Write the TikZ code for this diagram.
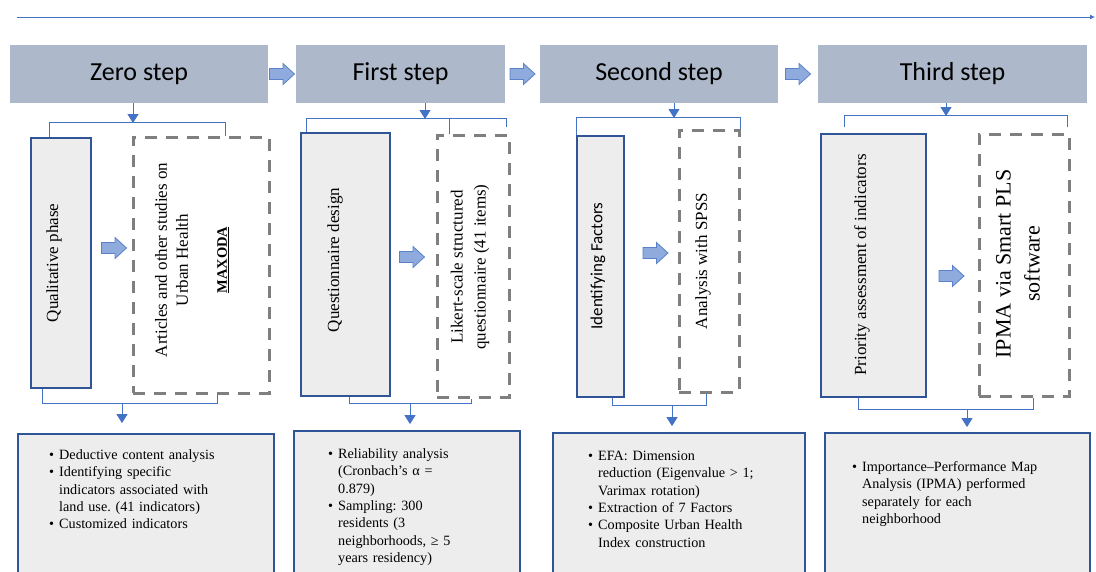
\documentclass[tikz,border=0pt]{standalone}
\usepackage{fontspec}
\setmainfont{Liberation Serif}
\newfontfamily\calib{Carlito}
\usetikzlibrary{arrows.meta,calc}
\definecolor{headfill}{HTML}{ADB9CA}
\definecolor{boxfill}{HTML}{EDEDED}
\definecolor{boxline}{HTML}{2F5597}
\definecolor{dashline}{HTML}{7F7F7F}
\definecolor{brkcol}{HTML}{4472C4}
\definecolor{blkfill}{HTML}{8FAADC}
\definecolor{blkline}{HTML}{5A82C8}
\newcommand{\bitem}[1]{\par\hangindent=10pt\hangafter=1\noindent\makebox[10pt][l]{\textbullet}#1\par}
\begin{document}
\begin{tikzpicture}[x=1pt,y=-1pt,
  head/.style={draw=none, fill=headfill, font=\calib\fontsize{26}{30}\selectfont, inner sep=0},
  solidbox/.style={draw=boxline, line width=1.8pt, fill=boxfill, inner sep=0},
  dashbox/.style={draw=dashline, line width=3pt, dash pattern=on 12pt off 9pt, inner sep=0},
  bottombox/.style={draw=boxline, line width=1.8pt, fill=boxfill, inner sep=0},
  rottext/.style={rotate=90, align=center, inner sep=0, font=\fontsize{17}{21}\selectfont},
  brkline/.style={draw=brkcol, line width=1pt},
  darr/.style={draw=brkcol, line width=1pt, -{Triangle[length=9pt,width=11pt]}},
  blist/.style={anchor=north west, inner sep=0, text width=220pt, font=\fontsize{14.2}{17.3}\selectfont, execute at begin node={\raggedright\frenchspacing}},
  blkarrow/.pic={\draw[draw=blkline, fill=blkfill, line width=0.8pt] (-12.5,-5.5) -- (1,-5.5) -- (1,-10.5) -- (12.5,0) -- (1,10.5) -- (1,5.5) -- (-12.5,5.5) -- cycle;}
]
\useasboundingbox (0,0) rectangle (1096,571);
\clip (0,0) rectangle (1096,571);

% top timeline
\coordinate (tl0) at (17,17);
\coordinate (tl1) at (1095,17);
\draw[draw=brkcol, line width=0.8pt, -{Latex[length=5pt,width=5pt]}] (tl0) -- (tl1);

% headers
\node[head, minimum width=258pt, minimum height=58pt] (h0) at (139,74) {Zero step};
\node[head, minimum width=209pt, minimum height=58pt] (h1) at (400.5,74) {First step};
\node[head, minimum width=238pt, minimum height=58pt] (h2) at (659,74) {Second step};
\node[head, minimum width=269pt, minimum height=58pt] (h3) at (952.5,74) {Third step};

\pic at ($(h0.east)!0.5!(h1.west)$) {blkarrow};
\pic at ($(h1.east)!0.5!(h2.west)$) {blkarrow};
\pic at ($(h2.east)!0.5!(h3.west)$) {blkarrow};

% solid boxes
\node[solidbox, minimum width=60pt, minimum height=250pt] (q0) at (61,263) {};
\node[solidbox, minimum width=89pt, minimum height=263pt] (q1) at (345.5,264.5) {};
\node[solidbox, minimum width=47pt, minimum height=261pt] (q2) at (600.5,266.5) {};
\node[solidbox, minimum width=105pt, minimum height=263pt] (q3) at (873.5,265.5) {};

\node[rottext] (q0t) at (54,263) {Qualitative phase};
\node[rottext] (q1t) at (335,260) {Questionnaire design};
\node[rottext, font=\calib\fontsize{17}{21}\selectfont] (q2t) at (598,266) {Identifying Factors};
\node[rottext] (q3t) at (862,265) {Priority assessment of indicators};

% dashed boxes
\node[dashbox, minimum width=136pt, minimum height=256pt] (d0) at (201,265) {};
\node[dashbox, minimum width=72pt, minimum height=262pt] (d1) at (473,266) {};
\node[dashbox, minimum width=60pt, minimum height=262pt] (d2) at (709,261) {};
\node[dashbox, minimum width=90pt, minimum height=262pt] (d3) at (1024,265) {};

\node[rottext] (d0t) at (192,260) {Articles and other studies on\\Urban Health\\[18pt]{\fontsize{14.5}{17}\selectfont\bfseries\underline{MAXODA}}};
\node[rottext, font=\fontsize{17}{23}\selectfont] (d1t) at (470,267) {Likert-scale structured\\questionnaire (41 items)};
\node[rottext] (d2t) at (703,261) {Analysis with SPSS};
\node[rottext, font=\fontsize{22}{29}\selectfont] (d3t) at (1018,264) {IPMA via Smart PLS\\software};

% inner block arrows
\pic at (114,248) {blkarrow};
\pic at (412,257) {blkarrow};
\pic at (655.5,253) {blkarrow};
\pic at (951.5,276) {blkarrow};

% top brackets and arrows
\coordinate (k0) at (133,123);
\draw[brkline] ($(q0.north west)+(19,0)$) -- ++(0,-15) -| ($(d0.north west)+(94,0)$);
\draw[darr] (h0.south -| k0) -- (k0);

\coordinate (k1) at (425,119);
\draw[brkline] ($(q1.north west)+(6,0)$) -- ++(0,-14) -- ++(200,0) -- ++(0,9);
\draw[brkline] ($(d1.north west)+(14,0)$) -- ++(0,-16);
\draw[darr] (h1.south -| k1) -- (k1);

\coordinate (k2) at (674,118);
\draw[brkline] (q2.north west) -- ++(0,-18) -| (d2.north east);
\draw[darr] (h2.south -| k2) -- (k2);

\coordinate (k3) at (946,116);
\draw[brkline] ($(q3.north west)+(24,-6)$) -- ++(0,-12) -- ++(223,0) -- ++(0,12);
\draw[darr] (h3.south -| k3) -- (k3);

% bottom boxes
\node[bottombox, minimum width=256pt, minimum height=146pt] (b0) at (146,507) {};
\node[bottombox, minimum width=226pt, minimum height=149pt] (b1) at (407,505.5) {};
\node[bottombox, minimum width=252pt, minimum height=147pt] (b2) at (679,506.5) {};
\node[bottombox, minimum width=265pt, minimum height=147pt] (b3) at (957.5,506.5) {};

% bottom brackets and arrows
\coordinate (m0) at (122,403);
\draw[brkline] ($(q0.south west)+(12,0)$) -- ++(0,15) -| ($(d0.south west)+(86,0)$);
\coordinate (t0) at (b0.north -| m0);
\draw[darr] (m0) -- ($(t0)+(0,-10)$);

\coordinate (m1) at (410,403);
\draw[brkline] ($(q1.south west)+(49,0)$) -- ++(0,7) -| ($(d1.south west)+(36,0)$);
\coordinate (t1) at (b1.north -| m1);
\draw[darr] (m1) -- ($(t1)+(0,-6)$);

\coordinate (m2) at (672,405);
\draw[brkline] ($(q2.south west)+(36,0)$) -- ++(0,8) -| ($(d2.south west)+(29,0)$);
\coordinate (t2) at (b2.north -| m2);
\draw[darr] (m2) -- ($(t2)+(0,-6)$);

\coordinate (m3) at (967,409);
\draw[brkline] ($(q3.south west)+(38,0)$) -- ++(0,12) -| ($(d3.south west)+(56,0)$);
\coordinate (t3) at (b3.north -| m3);
\draw[darr] (m3) -- ($(t3)+(0,-5)$);

% bottom texts
\node[blist] (b0t) at (49,442) {\bitem{Deductive content analysis}\bitem{Identifying specific\newline indicators associated with\newline land use. (41 indicators)}\bitem{Customized indicators}};
\node[blist] (b1t) at (328,441) {\bitem{Reliability analysis\newline (Cronbach's α =\newline 0.879)}\bitem{Sampling: 300\newline residents (3\newline neighborhoods, ≥ 5\newline years residency)}};
\node[blist] (b2t) at (588,443) {\bitem{EFA: Dimension\newline reduction (Eigenvalue > 1;\newline Varimax rotation)}\bitem{Extraction of 7 Factors}\bitem{Composite Urban Health\newline Index construction}};
\node[blist] (b3t) at (852,454) {\bitem{Importance–Performance Map\newline Analysis (IPMA) performed\newline separately for each\newline neighborhood}};
\end{tikzpicture}
\end{document}
